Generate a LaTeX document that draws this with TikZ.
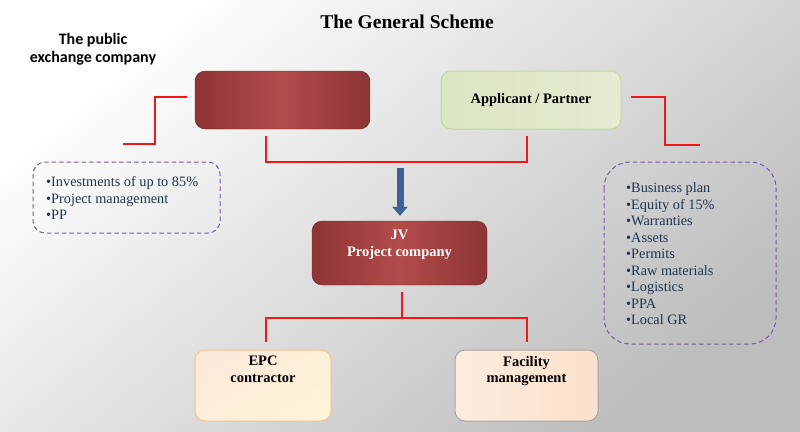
\documentclass[tikz,border=0pt]{standalone}
\usepackage{fontspec}
\setmainfont{Liberation Serif}
\newfontfamily\calib{Carlito}
\usetikzlibrary{arrows.meta}
\definecolor{dred}{HTML}{8E3434}
\definecolor{mred}{HTML}{B24C4B}
\definecolor{lgreen}{HTML}{E4ECD2}
\definecolor{lgreenB}{HTML}{C5D79E}
\definecolor{peach}{HTML}{FBDCC3}
\definecolor{peachB}{HTML}{F9BF91}
\definecolor{purp}{HTML}{7A5AA0}
\definecolor{txtblue}{HTML}{1F3550}
\definecolor{arrblue}{HTML}{3E6196}
\definecolor{linered}{HTML}{F01818}
\tikzset{
  redbox/.style={rounded corners=10pt, draw=dred!80!black, line width=0.4pt,
    left color=dred, right color=dred, middle color=mred,
    minimum width=175pt, minimum height=58pt, text=white, font=\bfseries\fontsize{14.5}{17}\selectfont, align=center},
  greenbox/.style={rounded corners=10pt, draw=lgreenB, line width=1pt,
    left color=lgreen!70!lgreenB, right color=lgreen, minimum width=180pt, minimum height=58pt,
    font=\bfseries\fontsize{14.5}{17}\selectfont, align=center},
  peachbox/.style={rounded corners=10pt, line width=1pt,
    minimum width=136pt, minimum height=71pt, font=\bfseries\fontsize{14.5}{16.5}\selectfont, align=center},
  dashbox/.style={draw=purp, line width=1pt, dash pattern=on 4.5pt off 3pt},
  listtxt/.style={text=txtblue, font=\fontsize{14.3}{16.5}\selectfont, align=left, anchor=north west, inner sep=0pt},
  conn/.style={draw=linered, color=linered, line width=1.1pt},
}
\begin{document}
\begin{tikzpicture}[x=1pt,y=-1pt]
\useasboundingbox (0,0) rectangle (800,431);
\shade[top color=white, bottom color=black!26, shading angle=40] (0,0) rectangle (800,431);
% title
\node (title) at (407,22) {\bfseries\fontsize{19.5}{22}\selectfont The General Scheme};
\node (pub) [align=center, font=\calib\bfseries\fontsize{16}{18.5}\selectfont] at (93,49) {The public\\exchange company};
% boxes
\node (pex) [redbox] at (282.5,100) {};
\node (app) [greenbox] at (531,100) {Applicant / Partner};
\node (jv) [redbox, minimum height=64pt] at (399.5,253) {};
\node (jvt) [text=white, font=\bfseries\fontsize{14.5}{16.5}\selectfont, align=center] at (399.5,245) {JV\\Project company};
\node (epc) [peachbox, draw=peachB, top color=peach!60!white, bottom color=peach!80!yellow!40!white, shading angle=30] at (263,385.5) {EPC\\contractor\\[16pt]};
\node (fm) [peachbox, draw=black!35, left color=peach!55!white, right color=peach!85!white, minimum width=143pt] at (526.5,385.5) {Facility\\management\\[16pt]};
% dashed list boxes
\draw[dashbox, rounded corners=12pt] (33,162) rectangle (220,233);
\node (l1) [listtxt] at (46,176.5) {•Investments of up to 85\%\\•Project management\\•PP};
\draw[dashbox, rounded corners=26pt] (604,162) rectangle (776,344);
\node (r1) [listtxt] at (626,182.5) {•Business plan\\•Equity of 15\%\\•Warranties\\•Assets\\•Permits\\•Raw materials\\•Logistics\\•PPA\\•Local GR};
% connectors
\coordinate (lb1) at (187,97);
\coordinate (lb2) at (123,144);
\draw[conn] (lb1) -- (155,97) -- (155,144) -- (lb2);
\coordinate (rb1) at (631,97);
\coordinate (rb2) at (700,145);
\draw[conn] (rb1) -- (665,97) -- (665,145) -- (rb2);
\coordinate (pa) at (266,136);
\coordinate (aa) at (527,136);
\draw[conn] (pa) -- (266,162) -- (527,162) -- (aa);
\coordinate (arrs) at (400,168);
\draw[arrblue, line width=7pt, -{Triangle[width=15pt,length=9pt]}, shorten >=5pt] (arrs) -- (jv.north -| arrs);
\coordinate (j1) at (402,292);
\coordinate (j2) at (402,318);
\draw[conn] (j1) -- (j2);
\coordinate (e1) at (266,342);
\coordinate (f1) at (527,342);
\draw[conn] (e1) -- (266,318) -- (527,318) -- (f1);
\end{tikzpicture}
\end{document}
